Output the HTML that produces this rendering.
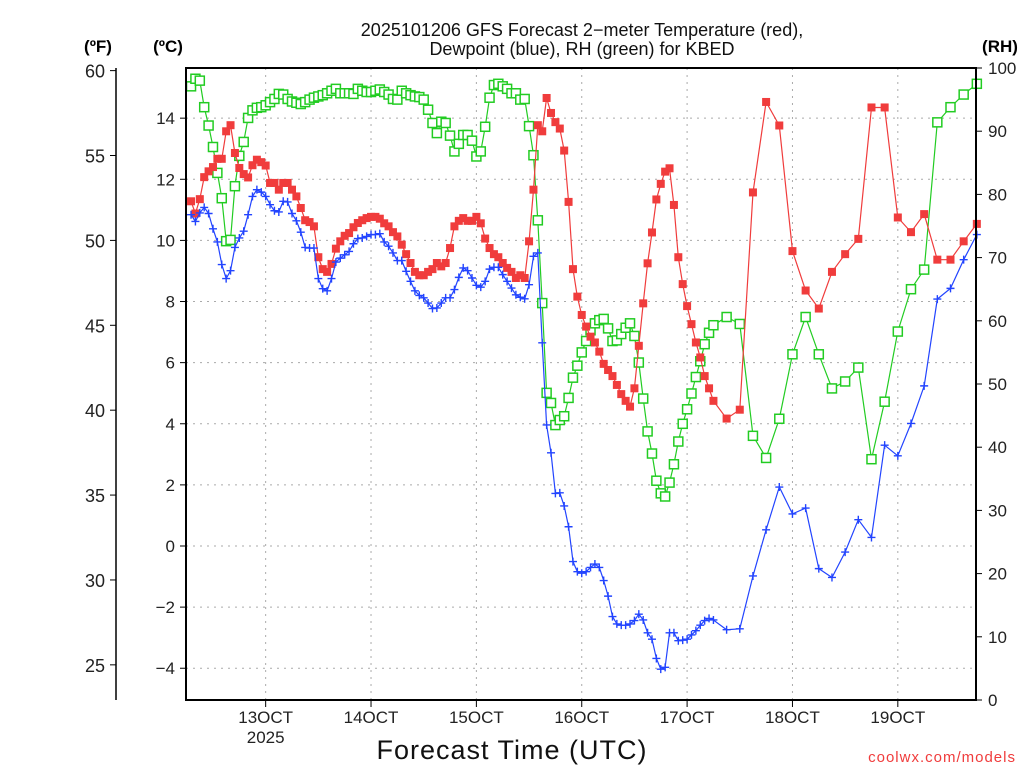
<!DOCTYPE html>
<html><head><meta charset="utf-8"><style>
html,body{margin:0;padding:0;background:#fff;}
svg{display:block;font-family:"Liberation Sans",sans-serif;}
</style></head><body>
<svg id="chart" width="1024" height="768" viewBox="0 0 1024 768" xmlns="http://www.w3.org/2000/svg">
<rect width="1024" height="768" fill="#fff"/>
<text x="582" y="36" font-size="18" text-anchor="middle" fill="#111">2025101206 GFS Forecast 2−meter Temperature (red),</text>
<text x="582" y="55" font-size="18" text-anchor="middle" fill="#111">Dewpoint (blue), RH (green) for KBED</text>
<text x="98" y="52" font-size="17" font-weight="bold" text-anchor="middle">(ºF)</text>
<text x="168" y="52" font-size="17" font-weight="bold" text-anchor="middle">(ºC)</text>
<text x="1000" y="52" font-size="17" font-weight="bold" text-anchor="middle">(RH)</text>
<text x="512" y="759" font-size="27" text-anchor="middle" letter-spacing="1" fill="#111">Forecast Time (UTC)</text>
<text x="1016" y="762" font-size="15" text-anchor="end" fill="#f03c3c" letter-spacing="1">coolwx.com/models</text>
<g id="grid"></g><g id="axes"></g><g id="series"></g>
<rect x="186" y="68" width="790" height="632" fill="none" stroke="#000" stroke-width="2"/>
</svg>
<script>
const tempC = [11.28,10.88,11.35,12.07,12.26,12.40,12.67,12.67,13.57,13.77,12.86,12.37,12.17,12.06,12.46,12.64,12.56,12.45,11.88,11.88,11.66,11.88,11.88,11.66,11.44,11.06,10.66,10.60,10.46,9.45,9.06,8.97,9.23,9.73,9.97,10.15,10.24,10.43,10.57,10.66,10.73,10.77,10.77,10.71,
10.56,10.46,10.27,10.13,9.86,9.55,9.26,8.97,8.86,8.86,8.97,9.06,9.26,9.15,9.26,9.75,10.46,10.64,10.73,10.64,10.64,10.77,10.56,10.06,9.75,9.55,9.45,9.26,9.10,8.97,8.77,8.86,8.77,9.97,11.66,13.77,13.57,14.66,14.17,13.87,13.66,12.94,11.26,
9.06,8.16,7.56,7.18,6.85,6.66,6.36,5.96,5.76,5.56,5.27,4.97,4.75,4.56,5.16,6.55,7.94,9.25,10.26,11.34,11.85,12.25,12.36,11.16,9.45,8.57,7.85,7.26,6.66,6.17,5.56,5.16,4.75,
4.17,4.46,11.57,14.53,13.76,9.65,8.36,7.77,8.97,9.55,10.05,14.35,14.35,10.75,10.27,10.86,9.37,9.37,9.97,10.54];
const dewC = [10.84,10.62,10.90,11.08,10.88,10.38,9.95,9.21,8.75,9.01,9.77,10.08,10.30,10.84,11.44,11.66,11.58,11.44,11.17,10.97,10.93,11.28,11.26,10.88,10.64,10.27,9.77,9.75,9.75,8.75,8.42,8.35,8.75,9.29,9.42,9.53,9.64,9.89,10.06,10.08,10.13,10.19,10.19,10.22,
9.95,9.81,9.59,9.34,9.34,8.99,8.66,8.35,8.20,8.12,7.95,7.77,7.79,7.95,8.12,8.12,8.39,8.79,9.10,9.01,8.77,8.53,8.47,8.66,9.06,9.12,9.12,8.88,8.66,8.44,8.22,8.14,8.09,8.55,9.48,9.59,
6.65,3.96,3.05,1.72,1.74,1.31,0.63,-0.51,-0.84,-0.89,-0.84,-0.70,-0.59,-0.70,-1.13,-1.64,-2.31,-2.55,-2.59,-2.59,-2.55,-2.44,-2.23,-2.42,-2.84,-3.05,-3.68,-4.03,-3.97,-2.84,-2.84,-3.10,-3.08,-3.05,-2.91,-2.77,-2.59,-2.44,-2.37,-2.42,
-2.74,-2.71,-0.98,0.53,1.93,1.05,1.24,-0.74,-1.03,-0.20,0.86,0.28,3.30,2.95,4.01,5.24,8.08,8.43,9.37,10.19];
const rhPct = [97.1,98.3,98.0,93.8,90.9,87.5,83.4,79.4,72.6,72.8,81.3,86.1,88.3,92.1,93.3,93.7,93.8,94.1,94.6,95.1,95.9,95.8,95.1,94.7,94.5,94.3,94.6,95.0,95.3,95.5,95.7,96.0,96.4,96.7,96.0,96.0,96.0,95.9,96.7,96.4,96.2,96.2,96.4,96.6,
96.2,95.8,95.1,95.0,96.4,96.0,95.7,95.5,95.4,95.0,93.4,91.3,89.7,91.5,91.3,89.3,86.8,88.0,89.4,89.4,88.5,86.0,86.8,90.7,95.3,97.3,97.5,97.1,96.7,96.0,96.0,95.0,95.1,90.8,86.2,75.9,62.8,
48.6,47.0,43.5,44.3,44.9,47.8,51.0,52.9,55.0,56.8,58.5,59.6,60.1,60.3,58.8,56.8,56.9,57.9,58.9,59.6,57.6,53.4,47.7,42.5,39.0,34.7,32.7,32.2,34.4,37.3,40.9,43.7,46.0,48.5,51.1,53.6,56.3,58.1,59.3,
60.6,59.5,41.8,38.3,44.5,54.7,60.6,54.7,49.3,50.4,52.6,38.1,47.2,58.3,65.0,68.1,91.4,93.8,95.8,97.5];
const dayLabels = ["13OCT","14OCT","15OCT","16OCT","17OCT","18OCT","19OCT"];
const celsiusTicks = [14,12,10,8,6,4,2,0,-2,-4];
const fahrenheitTicks = [60,55,50,45,40,35,30,25];
const rhTicks = [0,10,20,30,40,50,60,70,80,90,100];
// forecast valid hours since 12OCT 00Z: hourly f001-f120, then 3-hourly
const hours = [];
for (let h = 7; h <= 126; h++) hours.push(h);
for (let h = 129; h <= 186; h += 3) hours.push(h);

const NS = "http://www.w3.org/2000/svg";
const xH = h => 160.3 + 4.39 * h;
const yC = c => 546 - c * 30.56;
const yF = f => yC((f - 32) * 5 / 9);
const yRH = r => 700 - r * 6.32;
function mk(tag, attrs, parent) { const e = document.createElementNS(NS, tag); for (const k in attrs) e.setAttribute(k, attrs[k]); parent.appendChild(e); return e; }
const grid = document.getElementById('grid'), axes = document.getElementById('axes'), ser = document.getElementById('series');

celsiusTicks.forEach(c => {
  const y = yC(c);
  const g = mk('line', {x1:186, x2:976, y1:y, y2:y, stroke:'#aaa', 'stroke-dasharray':'2 5'}, grid);
  
  
  const t = mk('line', {x1:180, x2:186, y1:y, y2:y, stroke:'#000'}, axes);
  
  
  const l = mk('text', {x:175, y:y+6, 'font-size':17, 'text-anchor':'end', fill:'#222'}, axes);
  l.textContent = c < 0 ? '−' + Math.abs(c) : String(c);
  
  
});
const fl = mk('line', {x1:116, x2:116, y1:68, y2:700, stroke:'#000', 'stroke-width':1.5}, axes);


fahrenheitTicks.forEach(f => {
  const y = yF(f);
  const t = mk('line', {x1:110, x2:116, y1:y, y2:y, stroke:'#000'}, axes);
  
  
  const l = mk('text', {x:105, y:y+7, 'font-size':18, 'text-anchor':'end', fill:'#222'}, axes);
  l.textContent = String(f);
  
  
});
rhTicks.forEach(r => {
  const y = yRH(r);
  const t = mk('line', {x1:976, x2:982, y1:y, y2:y, stroke:'#000'}, axes);
  
  
  const l = mk('text', {x:988, y:y+6, 'font-size':17, fill:'#222'}, axes);
  l.textContent = String(r);
  
  
});
dayLabels.forEach((d, i) => {
  const x = xH(24 + 24 * i);
  const g = mk('line', {x1:x, x2:x, y1:68, y2:700, stroke:'#aaa', 'stroke-dasharray':'2 5'}, grid);
  
  
  const t = mk('line', {x1:x, x2:x, y1:700, y2:707, stroke:'#000'}, axes);
  
  
  const l = mk('text', {x:x, y:723, 'font-size':17, 'text-anchor':'middle', fill:'#222'}, axes);
  l.textContent = d;
  
  
});
const yr = mk('text', {x:xH(24), y:743, 'font-size':17, 'text-anchor':'middle', fill:'#222'}, axes);
yr.textContent = '2025';



function drawSeries(vals, yf, color, name, marker) {
  const g = mk('g', {}, ser);
  
  
  const pts = vals.map((v, i) => xH(hours[i]).toFixed(1) + ',' + yf(v).toFixed(1)).join(' ');
  const pl = mk('polyline', {points:pts, fill:'none', stroke:color, 'stroke-width':1.2}, g);
  
  
  vals.forEach((v, i) => {
    const x = xH(hours[i]), y = yf(v);
    let m;
    if (marker === 'fill') m = mk('rect', {x:x-4, y:y-4, width:8, height:8, fill:color}, g);
    else if (marker === 'open') m = mk('rect', {x:x-4.5, y:y-4.5, width:9, height:9, fill:'#fff', stroke:color, 'stroke-width':1.5}, g);
    else m = mk('path', {d:`M${x-4},${y}H${x+4}M${x},${y-4}V${y+4}`, stroke:color, 'stroke-width':1.4}, g);
    
    
  });
}
drawSeries(rhPct, yRH, '#22cc22', 'rh', 'open');
drawSeries(tempC, yC, '#f03c3c', 'temperature', 'fill');
drawSeries(dewC, yC, '#2244ff', 'dewpoint', 'plus');
</script>
</body></html>
